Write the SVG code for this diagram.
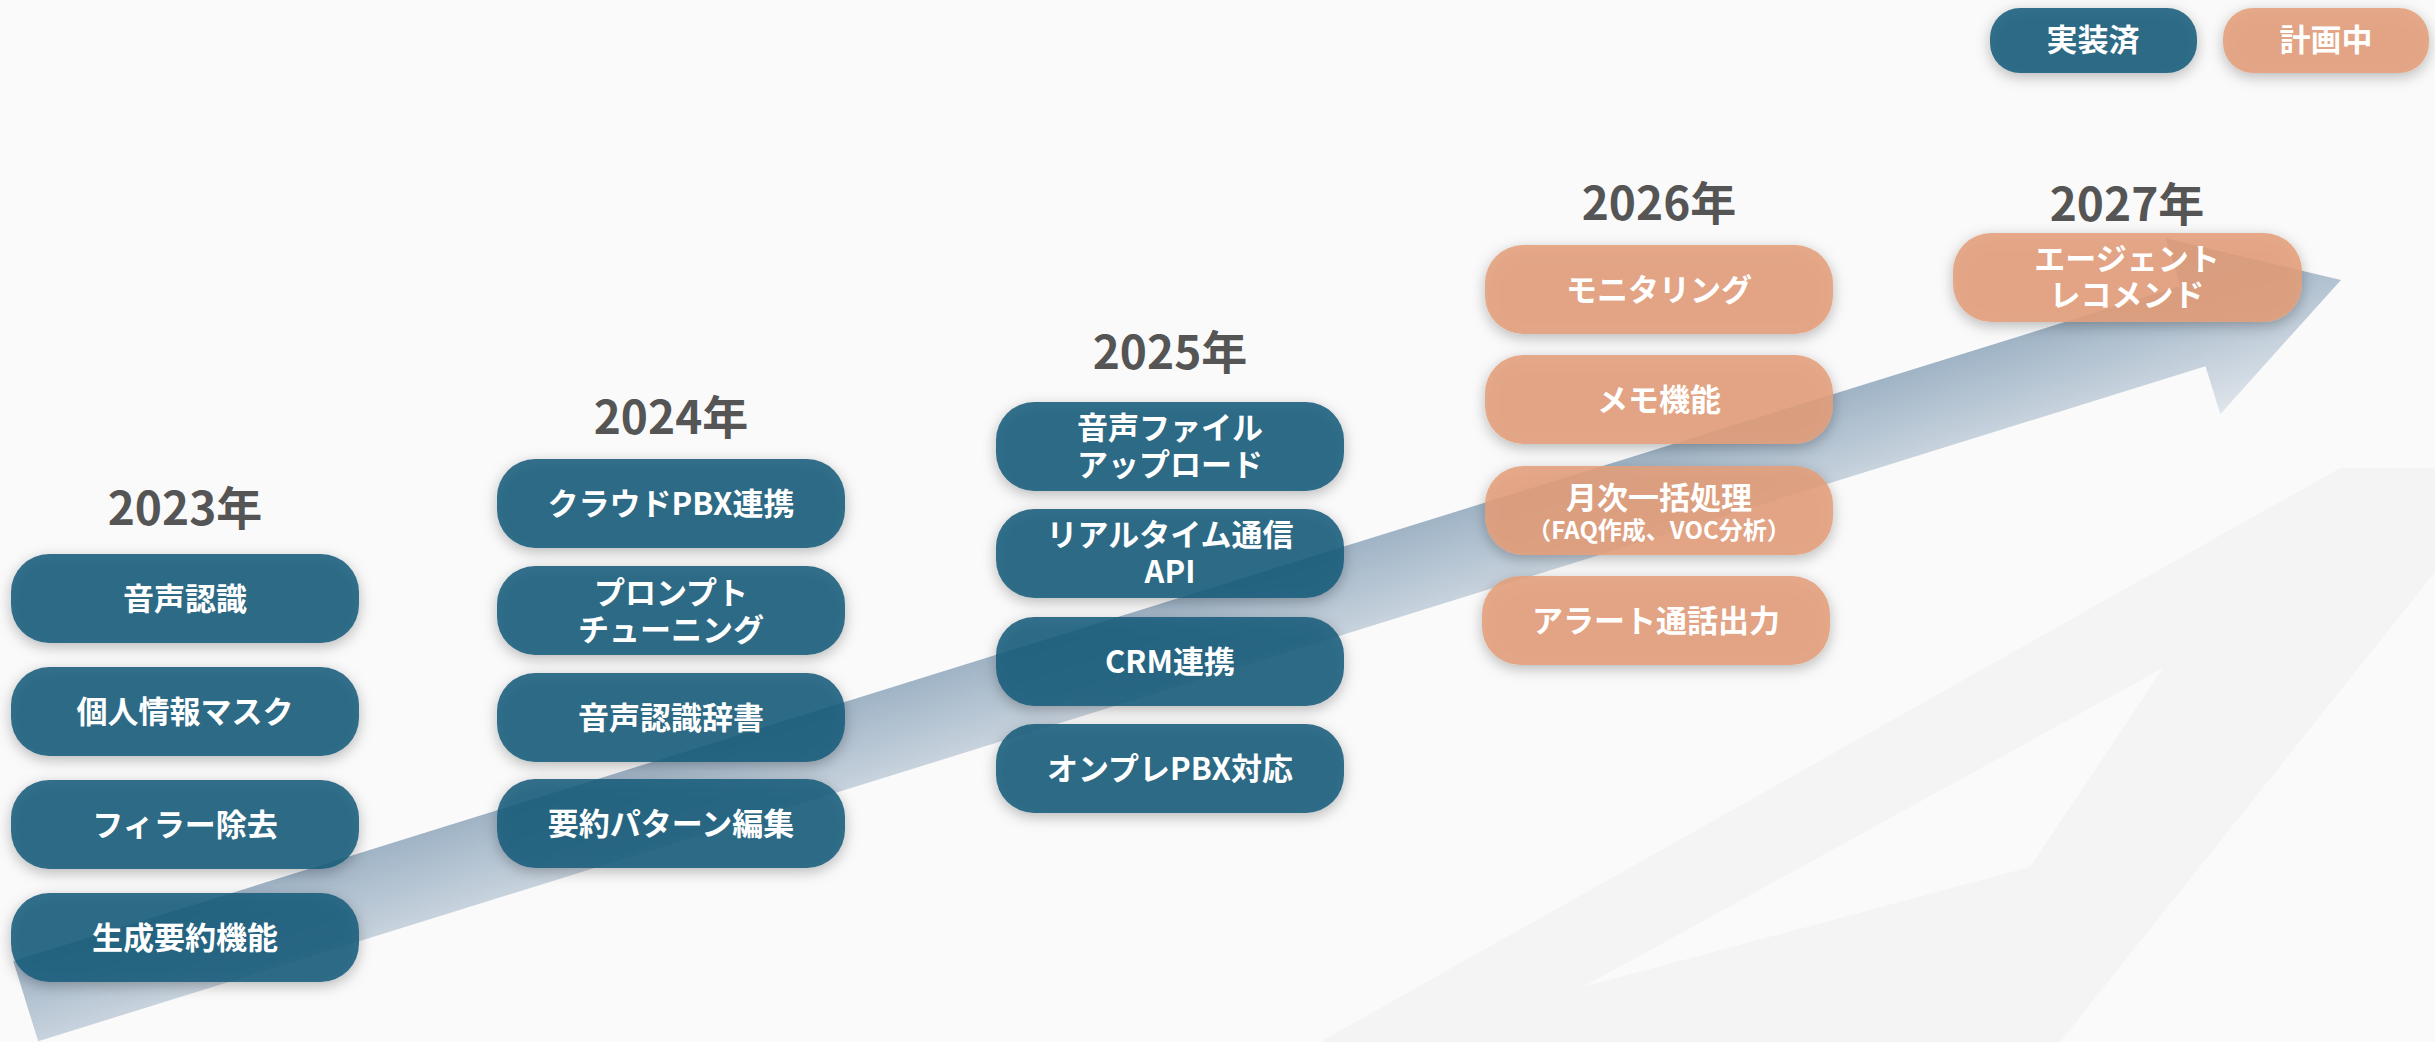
<svg xmlns="http://www.w3.org/2000/svg" width="2435" height="1042" viewBox="0 0 2435 1042">
<defs>
<style>
.t{font-family:"Noto Sans CJK JP","Noto Sans",sans-serif;font-weight:700;fill:#ffffff;font-size:31px;text-anchor:middle}
.s{font-size:24px}
.yr{font-family:"Noto Sans CJK JP","Noto Sans",sans-serif;font-weight:700;fill:#555555;font-size:46px;text-anchor:middle}
.done{fill:#1a5c7b;fill-opacity:0.87;filter:url(#sh)}
.plan{fill:#e39e7a;fill-opacity:0.87;filter:url(#sh)}
</style>
<filter id="sh" x="-20%" y="-40%" width="140%" height="190%">
<feGaussianBlur in="SourceAlpha" stdDeviation="7"/>
<feOffset dy="4" result="b"/>
<feFlood flood-color="#000000" flood-opacity="0.3"/>
<feComposite in2="b" operator="in" result="s"/>
<feMerge><feMergeNode in="s"/><feMergeNode in="SourceGraphic"/></feMerge>
</filter>
<linearGradient id="ag" gradientUnits="userSpaceOnUse" x1="0" y1="-60" x2="0" y2="92">
<stop offset="0" stop-color="#97adc1"/>
<stop offset="1" stop-color="#dfe5eb"/>
</linearGradient>
</defs>
<rect width="2435" height="1042" fill="#fafafa"/>
<g id="background-shapes">
<path d="M1320,1042 L2340,468 L2435,468 L2435,572 L2060,1042 Z M1583,987 L2163,668 L2030,867 Z" fill="#f4f4f4" fill-rule="evenodd"/>
</g>
<g id="connectors">
<polygon transform="translate(2341,280) rotate(-17.3)" points="-2425,-42 -155,-42 -155,-92 0,0 -155,92 -155,42 -2425,42" fill="url(#ag)"/>
</g>
<g id="legend-done"><rect class="done" x="1990" y="8" width="207" height="65" rx="30"/><text class="t" x="2093" y="51">実装済</text></g>
<g id="legend-plan"><rect class="plan" x="2223" y="8" width="206" height="65" rx="30"/><text class="t" x="2326" y="51">計画中</text></g>

<g id="year-2023"><text class="yr" x="185" y="525">2023年</text></g>
<g id="year-2024"><text class="yr" x="671" y="434">2024年</text></g>
<g id="year-2025"><text class="yr" x="1170" y="369">2025年</text></g>
<g id="year-2026"><text class="yr" x="1659" y="220">2026年</text></g>
<g id="year-2027"><text class="yr" x="2127" y="221">2027年</text></g>

<g id="n2023-1"><rect class="done" x="11" y="554" width="348" height="89" rx="38"/><text class="t" x="185" y="610">音声認識</text></g>
<g id="n2023-2"><rect class="done" x="11" y="667" width="348" height="89" rx="38"/><text class="t" x="185" y="723">個人情報マスク</text></g>
<g id="n2023-3"><rect class="done" x="11" y="780" width="348" height="89" rx="38"/><text class="t" x="185" y="836">フィラー除去</text></g>
<g id="n2023-4"><rect class="done" x="11" y="893" width="348" height="89" rx="38"/><text class="t" x="185" y="949">生成要約機能</text></g>

<g id="n2024-1"><rect class="done" x="497" y="459" width="348" height="89" rx="38"/><text class="t" x="671" y="515">クラウドPBX連携</text></g>
<g id="n2024-2"><rect class="done" x="497" y="566" width="348" height="89" rx="38"/><text class="t" x="671" y="604">プロンプト<tspan x="671" dy="37">チューニング</tspan></text></g>
<g id="n2024-3"><rect class="done" x="497" y="673" width="348" height="89" rx="38"/><text class="t" x="671" y="729">音声認識辞書</text></g>
<g id="n2024-4"><rect class="done" x="497" y="779" width="348" height="89" rx="38"/><text class="t" x="671" y="835">要約パターン編集</text></g>

<g id="n2025-1"><rect class="done" x="996" y="402" width="348" height="89" rx="38"/><text class="t" x="1170" y="439">音声ファイル<tspan x="1170" dy="37">アップロード</tspan></text></g>
<g id="n2025-2"><rect class="done" x="996" y="509" width="348" height="89" rx="38"/><text class="t" x="1170" y="546">リアルタイム通信<tspan x="1170" dy="37">API</tspan></text></g>
<g id="n2025-3"><rect class="done" x="996" y="617" width="348" height="89" rx="38"/><text class="t" x="1170" y="673">CRM連携</text></g>
<g id="n2025-4"><rect class="done" x="996" y="724" width="348" height="89" rx="38"/><text class="t" x="1170" y="780">オンプレPBX対応</text></g>

<g id="n2026-1"><rect class="plan" x="1485" y="245" width="348" height="89" rx="38"/><text class="t" x="1659" y="301">モニタリング</text></g>
<g id="n2026-2"><rect class="plan" x="1485" y="355" width="348" height="89" rx="38"/><text class="t" x="1659" y="411">メモ機能</text></g>
<g id="n2026-3"><rect class="plan" x="1485" y="466" width="348" height="89" rx="38"/><text class="t" x="1659" y="509">月次一括処理<tspan class="s" x="1659" dy="30">（FAQ作成、VOC分析）</tspan></text></g>
<g id="n2026-4"><rect class="plan" x="1482" y="576" width="348" height="89" rx="38"/><text class="t" x="1656" y="632">アラート通話出力</text></g>

<g id="n2027-1"><rect class="plan" x="1953" y="233" width="349" height="89" rx="38"/><text class="t" x="2127" y="270">エージェント<tspan x="2127" dy="36">レコメンド</tspan></text></g>
</svg>
